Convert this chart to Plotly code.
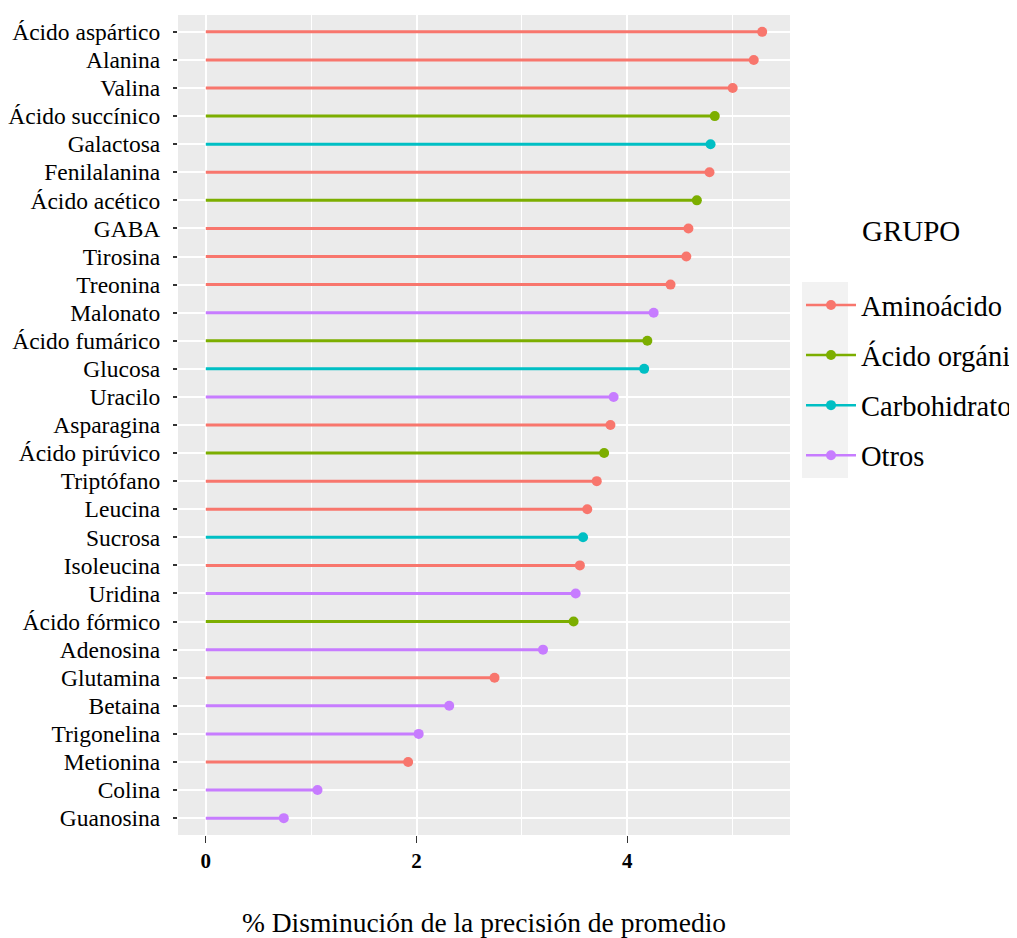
import plotly.graph_objects as go

compuestos = ["Ácido aspártico", "Alanina", "Valina", "Ácido succínico", "Galactosa",
              "Fenilalanina", "Ácido acético", "GABA", "Tirosina", "Treonina", "Malonato",
              "Ácido fumárico", "Glucosa", "Uracilo", "Asparagina", "Ácido pirúvico",
              "Triptófano", "Leucina", "Sucrosa", "Isoleucina", "Uridina", "Ácido fórmico",
              "Adenosina", "Glutamina", "Betaina", "Trigonelina", "Metionina", "Colina",
              "Guanosina"]
valores = [5.28, 5.20, 5.00, 4.83, 4.79, 4.78, 4.66, 4.58, 4.56, 4.41, 4.25,
           4.19, 4.16, 3.87, 3.84, 3.78, 3.71, 3.62, 3.58, 3.55, 3.51, 3.49,
           3.20, 2.74, 2.31, 2.02, 1.92, 1.06, 0.74]
grupos = ["Aminoácido", "Aminoácido", "Aminoácido", "Ácido orgánico", "Carbohidrato",
          "Aminoácido", "Ácido orgánico", "Aminoácido", "Aminoácido", "Aminoácido", "Otros",
          "Ácido orgánico", "Carbohidrato", "Otros", "Aminoácido", "Ácido orgánico",
          "Aminoácido", "Aminoácido", "Carbohidrato", "Aminoácido", "Otros", "Ácido orgánico",
          "Otros", "Aminoácido", "Otros", "Otros", "Aminoácido", "Otros",
          "Otros"]
niveles = ["Aminoácido", "Ácido orgánico", "Carbohidrato", "Otros"]
colores = ["#F8766D", "#7CAE00", "#00BFC4", "#C77CFF"]
x_ticks = [0, 2, 4]

FONT = "Liberation Serif"

fig = go.Figure()
for g, col in zip(niveles, colores):
    xs, ys, mx, my = [], [], [], []
    for c, v, gg in zip(compuestos, valores, grupos):
        if gg == g:
            xs += [0, v, None]
            ys += [c, c, None]
            mx.append(v)
            my.append(c)
    fig.add_trace(go.Scatter(x=xs, y=ys, mode="lines", line=dict(color=col, width=3),
                             showlegend=False, legendgroup=g, hoverinfo="skip"))
    fig.add_trace(go.Scatter(x=mx, y=my, mode="markers",
                             marker=dict(color=col, size=10, symbol="circle"),
                             showlegend=False, legendgroup=g))
    fig.add_trace(go.Scatter(x=[None], y=[None], mode="lines+markers", name=g,
                             line=dict(color=col, width=2.5),
                             marker=dict(color=col, size=10),
                             legendgroup=g, showlegend=True))

# page body has an 8px margin; figure sized to fit the 1017x938 window
OFF = 8
W, H = 1017 - OFF, 938 - OFF
L, T = 178 - OFF, 15 - OFF
R = W - (790 - OFF)
B = H - (835 - OFF)
pw, ph = W - L - R, H - T - B

def px_x(p):
    return (p - OFF - L) / pw

def px_y(p):
    return (H - B - (p - OFF)) / ph

fig.add_shape(type="rect", xref="paper", yref="paper",
              x0=px_x(802), x1=px_x(848), y0=px_y(478), y1=px_y(282),
              fillcolor="#F2F2F2", line=dict(width=0), layer="below")
fig.add_annotation(text="GRUPO", xref="paper", yref="paper", x=px_x(860), y=px_y(231),
                   xanchor="left", yanchor="middle", showarrow=False,
                   font=dict(family=FONT, size=29, color="black"))

fig.update_layout(
    width=W, height=H,
    margin=dict(l=L, r=R, t=T, b=B, autoexpand=False),
    paper_bgcolor="white", plot_bgcolor="#EBEBEB",
    font=dict(family=FONT, color="black"),
    legend=dict(x=px_x(801), y=px_y(280), xanchor="left", yanchor="top",
                bgcolor="rgba(0,0,0,0)", font=dict(family=FONT, size=28.5, color="black"),
                tracegroupgap=10, itemwidth=50, traceorder="grouped"),
    xaxis=dict(range=[-0.264, 5.544], tickvals=x_ticks, ticktext=[str(t) for t in x_ticks],
               showgrid=True, gridcolor="white", gridwidth=1.6, zeroline=False,
               minor=dict(dtick=1, tick0=1, showgrid=True, gridcolor="white", gridwidth=0.8),
               ticks="outside", ticklen=7, tickwidth=1.2, tickcolor="#333333",
               tickfont=dict(family=FONT, size=21, color="black", weight="bold"),
               title=dict(text="% Disminución de la precisión de promedio",
                          font=dict(family=FONT, size=27.5, color="black"), standoff=44),
               showline=False),
    yaxis=dict(type="category", categoryorder="array", categoryarray=compuestos[::-1],
               tickmode="array", tickvals=compuestos, ticktext=compuestos,
               range=[-0.6, len(compuestos) - 0.4],
               showgrid=True, gridcolor="white", gridwidth=1.6, zeroline=False,
               ticks="outside", ticklen=4, tickwidth=1.5, tickcolor="#333333",
               ticklabelstandoff=8,
               tickfont=dict(family=FONT, size=23.5, color="black"), showline=False),
)

fig.write_html("out.html")
